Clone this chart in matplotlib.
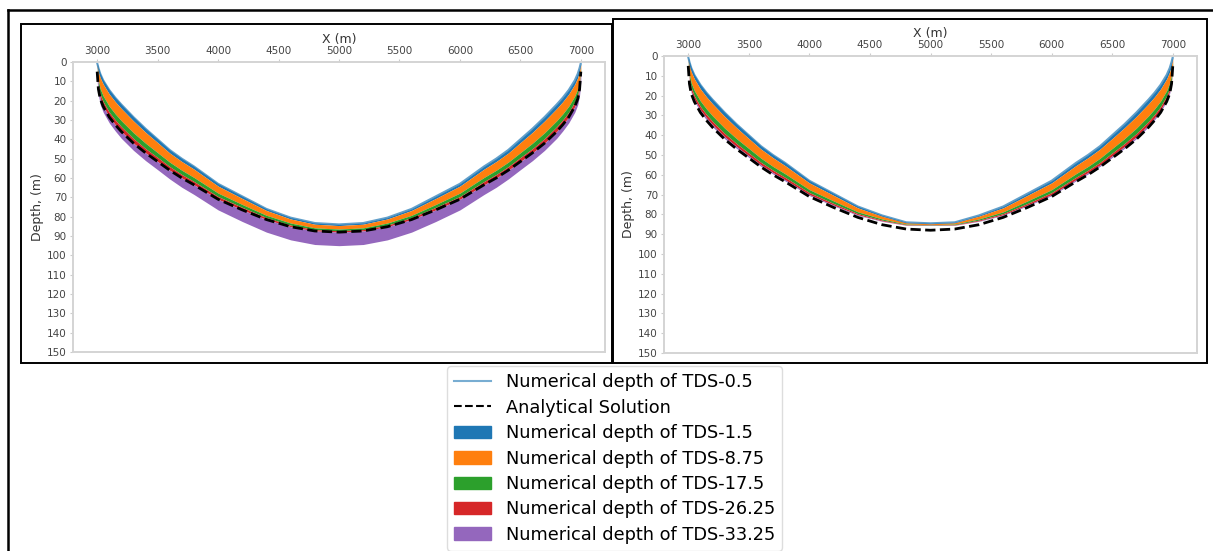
import matplotlib.pyplot as plt
from matplotlib.lines import Line2D
from matplotlib.patches import Patch, Rectangle

# x stations along the section (m)
x_pos = [3000, 3010, 3025, 3050, 3100, 3150, 3200, 3300, 3400, 3500, 3600, 3700, 3800,
         4000, 4200, 4400, 4600, 4800, 5000, 5200, 5400, 5600, 5800, 6000, 6200, 6300,
         6400, 6500, 6600, 6700, 6800, 6850, 6900, 6950, 6975, 6990, 7000]

# analytical depth (m), same for both runs
analytical = [5.0, 14.0, 19.0, 23.0, 28.5, 32.5, 36.0, 42.0, 47.0, 51.5, 56.0, 60.0, 63.5,
              71.0, 76.5, 81.5, 85.2, 87.4, 88.0, 87.4, 85.2, 81.5, 76.5, 71.0, 63.5, 60.0,
              56.0, 51.5, 47.0, 42.0, 36.0, 32.5, 28.5, 23.0, 19.0, 14.0, 5.0]

# numerical depths, left run
left_tds_0_5 = [0.5, 3, 6, 9.5, 14.5, 18.5, 22, 28.5, 34.5, 40, 45.5, 50, 54, 63, 69.5, 76, 80.5,
                83.3, 84, 83.3, 80.5, 76, 69.5, 63, 54, 50, 45.5, 40, 34.5, 28.5, 22, 18.5, 14.5,
                9.5, 6, 3, 0.5]
left_tds_1_5 = [1.2, 4.7, 8.0, 11.5, 16.6, 20.6, 24.1, 30.5, 36.4, 41.7, 47.1, 51.5, 55.4, 64.2,
                70.6, 76.8, 81.2, 83.9, 84.6, 83.9, 81.2, 76.8, 70.6, 64.2, 55.4, 51.5, 47.1, 41.7,
                36.4, 30.5, 24.1, 20.6, 16.6, 11.5, 8.0, 4.7, 1.2]
left_tds_8_75 = [3.2, 9.6, 13.8, 17.6, 22.9, 26.9, 30.4, 36.6, 42.0, 46.9, 51.8, 56.0, 59.7, 67.8,
                 73.7, 79.3, 83.3, 85.8, 86.4, 85.8, 83.3, 79.3, 73.7, 67.8, 59.7, 56.0, 51.8, 46.9,
                 42.0, 36.6, 30.4, 26.9, 22.9, 17.6, 13.8, 9.6, 3.2]
left_tds_17_5 = [4.2, 12.0, 16.7, 20.6, 26.0, 30.0, 33.5, 39.6, 44.8, 49.4, 54.1, 58.2, 61.8, 69.6,
                 75.2, 80.5, 84.4, 86.7, 87.3, 86.7, 84.4, 80.5, 75.2, 69.6, 61.8, 58.2, 54.1, 49.4,
                 44.8, 39.6, 33.5, 30.0, 26.0, 20.6, 16.7, 12.0, 4.2]
left_tds_26_25 = [5.0, 14.0, 19.0, 23.0, 28.5, 32.5, 36.0, 42.0, 47.0, 51.5, 56.0, 60.0, 63.5,
                  71.0, 76.5, 81.5, 85.2, 87.4, 88.0, 87.4, 85.2, 81.5, 76.5, 71.0, 63.5, 60.0,
                  56.0, 51.5, 47.0, 42.0, 36.0, 32.5, 28.5, 23.0, 19.0, 14.0, 5.0]
left_tds_33_25 = [10.0, 17.0, 22.0, 26.0, 31.5, 35.7, 39.5, 45.7, 51.0, 55.7, 60.5, 64.8, 68.5,
                  76.5, 82.5, 88.0, 92.0, 94.4, 95.0, 94.4, 92.0, 88.0, 82.5, 76.5, 68.5, 64.8,
                  60.5, 55.7, 51.0, 45.7, 39.5, 35.7, 31.5, 26.0, 22.0, 17.0, 10.0]

# numerical depths, right run
right_tds_0_5 = [0.5, 3, 6, 9.5, 14.5, 18.5, 22, 28.5, 34.5, 40, 45.5, 50, 54, 63, 69.5, 76, 80.5,
                 84, 84.5, 84, 80.5, 76, 69.5, 63, 54, 50, 45.5, 40, 34.5, 28.5, 22, 18.5, 14.5,
                 9.5, 6, 3, 0.5]
right_tds_1_5 = [1.2, 4.6, 7.9, 11.5, 16.6, 20.6, 24.1, 30.5, 36.3, 41.7, 47.0, 51.4, 55.4, 64.1,
                 70.4, 76.7, 80.9, 84.2, 84.7, 84.2, 80.9, 76.7, 70.4, 64.1, 55.4, 51.4, 47.0, 41.7,
                 36.3, 30.5, 24.1, 20.6, 16.6, 11.5, 7.9, 4.6, 1.2]
right_tds_8_75 = [3.2, 9.4, 13.6, 17.4, 22.7, 26.7, 30.2, 36.4, 41.8, 46.7, 51.6, 55.8, 59.5, 67.5,
                  73.2, 78.7, 82.3, 84.9, 85.2, 84.9, 82.3, 78.7, 73.2, 67.5, 59.5, 55.8, 51.6, 46.7,
                  41.8, 36.4, 30.2, 26.7, 22.7, 17.4, 13.6, 9.4, 3.2]
right_tds_17_5 = [4.1, 11.6, 16.2, 20.1, 25.5, 29.5, 33.0, 39.1, 44.3, 49.0, 53.7, 57.7, 61.3, 69.0,
                  74.5, 79.6, 82.9, 85.2, 85.4, 85.2, 82.9, 79.6, 74.5, 69.0, 61.3, 57.7, 53.7, 49.0,
                  44.3, 39.1, 33.0, 29.5, 25.5, 20.1, 16.2, 11.6, 4.1]
right_tds_26_25 = [4.7, 13.0, 17.8, 21.8, 27.2, 31.2, 34.7, 40.8, 45.8, 50.4, 55.0, 58.9, 62.5,
                   70.0, 75.3, 80.2, 83.3, 85.4, 85.5, 85.4, 83.3, 80.2, 75.3, 70.0, 62.5, 58.9,
                   55.0, 50.4, 45.8, 40.8, 34.7, 31.2, 27.2, 21.8, 17.8, 13.0, 4.7]
right_tds_33_25 = [5.0, 13.7, 18.7, 22.7, 28.2, 32.2, 35.7, 41.7, 46.7, 51.2, 55.7, 59.6, 63.1,
                   70.5, 75.7, 80.5, 83.5, 85.5, 85.6, 85.5, 83.5, 80.5, 75.7, 70.5, 63.1, 59.6,
                   55.7, 51.2, 46.7, 41.7, 35.7, 32.2, 28.2, 22.7, 18.7, 13.7, 5.0]

band_labels = ['Numerical depth of TDS-1.5', 'Numerical depth of TDS-8.75',
               'Numerical depth of TDS-17.5', 'Numerical depth of TDS-26.25',
               'Numerical depth of TDS-33.25']
band_colors = ['tab:blue', 'tab:orange', 'tab:green', 'tab:red', 'tab:purple']
x_ticks = [3000, 3500, 4000, 4500, 5000, 5500, 6000, 6500, 7000]
depth_ticks = list(range(0, 151, 10))

W, H = 1213, 551
fig = plt.figure(figsize=(W / 100, H / 100), dpi=100)


def px_box(x0, y0, x1, y1):
    # pixel box (top-left origin) -> figure fraction [left, bottom, width, height]
    return [x0 / W, 1 - y1 / H, (x1 - x0) / W, (y1 - y0) / H]


# outer frame (top and left edges)
fig.add_artist(Line2D([8 / W, 1], [1 - 10 / H, 1 - 10 / H], color='black', lw=1.8))
fig.add_artist(Line2D([8 / W, 8 / W], [1 - 10 / H, 0], color='black', lw=1.8))

# boxes around each panel
for bx in [px_box(21, 24, 612, 363), px_box(613, 19, 1207, 363)]:
    fig.add_artist(Rectangle((bx[0], bx[1]), bx[2], bx[3], transform=fig.transFigure,
                             fill=False, edgecolor='black', lw=1.4))


def draw_panel(ax, curves, analytic):
    for i in range(5):
        ax.fill_between(x_pos, curves[i], curves[i + 1], color=band_colors[i], lw=0)
    ax.plot(x_pos, curves[0], color='tab:blue', alpha=0.7, lw=1.5)
    ax.plot(x_pos, analytic, color='black', ls='--', lw=2.0)
    ax.set_xlim(2800, 7200)
    ax.set_ylim(150, 0)
    ax.set_xticks(x_ticks)
    ax.set_yticks(depth_ticks)
    ax.xaxis.tick_top()
    ax.xaxis.set_label_position('top')
    ax.set_xlabel('X (m)', fontsize=9, color='#333333', labelpad=2)
    ax.set_ylabel('Depth, (m)', fontsize=9, color='#333333', labelpad=2)
    ax.tick_params(labelsize=7.5, colors='#cccccc', labelcolor='#444444', length=2.5, pad=2)
    for s in ax.spines.values():
        s.set_color('#d4d4d4')
        s.set_linewidth(1.4)


ax1 = fig.add_axes(px_box(73, 62, 605, 352))
draw_panel(ax1, [left_tds_0_5, left_tds_1_5, left_tds_8_75, left_tds_17_5,
                 left_tds_26_25, left_tds_33_25], analytical)

ax2 = fig.add_axes(px_box(664, 56, 1197, 353))
draw_panel(ax2, [right_tds_0_5, right_tds_1_5, right_tds_8_75, right_tds_17_5,
                 right_tds_26_25, right_tds_33_25], analytical)

handles = [Line2D([], [], color='tab:blue', alpha=0.6, lw=1.5),
           Line2D([], [], color='black', ls='--', lw=1.5)]
handles += [Patch(color=c) for c in band_colors]
labels = ['Numerical depth of TDS-0.5', 'Analytical Solution'] + band_labels
fig.legend(handles, labels, loc='upper left', bbox_to_anchor=(447 / W, 1 - 366 / H),
           borderaxespad=0, fontsize=12.8, handlelength=2.1, labelspacing=0.42,
           framealpha=1, edgecolor='#dddddd')

fig.savefig('out.png', dpi=100)
